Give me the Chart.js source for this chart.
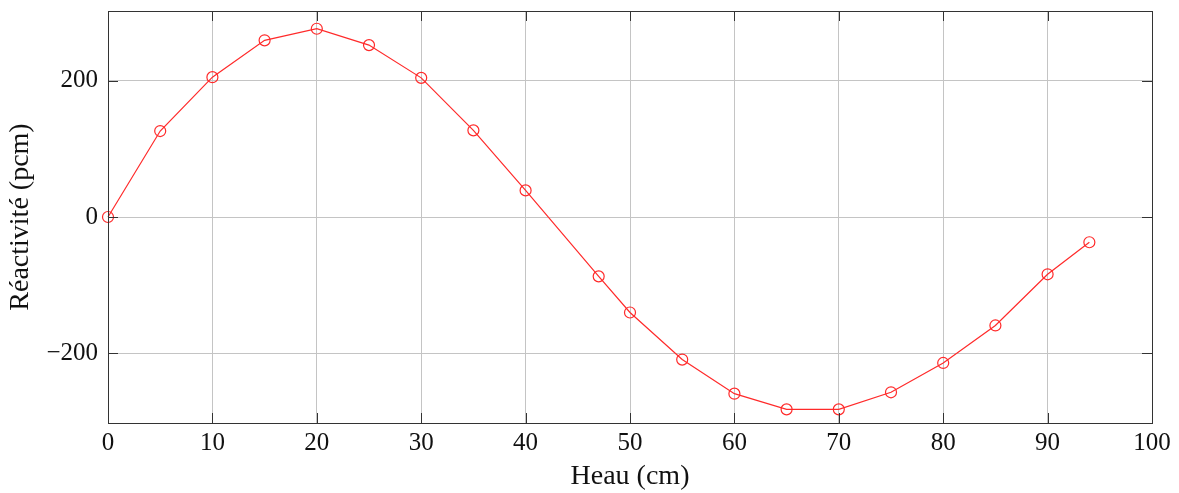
<!DOCTYPE html>
<html>
<head>
<meta charset="utf-8">
<script src="https://cdn.jsdelivr.net/npm/chart.js@4"></script>
<style>
  html, body { margin: 0; padding: 0; background: #fff; }
  #wrap { width: 1179px; height: 493px; position: relative; }
</style>
</head>
<body>
<div id="wrap"><canvas id="reacChart"></canvas></div>
<script>
// hauteur d'eau (cm) et réactivité (pcm)
const heights = [0, 5, 10, 15, 20, 25, 30, 35, 40, 47, 50, 55, 60, 65, 70, 75, 80, 85, 90, 94];
const reactivity = [0, 126, 205, 259, 276, 252, 204, 127, 39, -87, -140, -209, -259, -282, -282, -257, -214, -159, -84, -37];
const xTicks = [0, 10, 20, 30, 40, 50, 60, 70, 80, 90, 100];
const yTicks = [-200, 0, 200];

const FONT = "'Liberation Serif', 'DejaVu Serif', serif";

// pgfplots style: full box + small inward tick marks
const boxPlugin = {
  id: "box",
  afterDatasetsDraw(chart) {
    const { ctx, chartArea: a, scales } = chart;
    ctx.save();
    ctx.strokeStyle = "#333";
    ctx.lineWidth = 1;
    ctx.beginPath();
    xTicks.forEach((v) => {
      const px = Math.round(scales.x.getPixelForValue(v)) + 0.5;
      ctx.moveTo(px, a.bottom); ctx.lineTo(px, a.bottom - 10);
      ctx.moveTo(px, a.top); ctx.lineTo(px, a.top + 10);
    });
    yTicks.forEach((v) => {
      const py = Math.round(scales.y.getPixelForValue(v)) + 0.5;
      ctx.moveTo(a.left, py); ctx.lineTo(a.left + 10, py);
      ctx.moveTo(a.right, py); ctx.lineTo(a.right - 10, py);
    });
    ctx.stroke();
    ctx.strokeRect(Math.round(a.left) + 0.5, Math.round(a.top) + 0.5,
      Math.round(a.right - a.left), Math.round(a.bottom - a.top));
    ctx.restore();
  },
};

new Chart(document.getElementById("reacChart"), {
  type: "line",
  data: {
    datasets: [
      {
        data: heights.map((h, i) => ({ x: h, y: reactivity[i] })),
        borderColor: "#ff2a2a",
        borderWidth: 1.2,
        pointStyle: "circle",
        pointRadius: 5.5,
        pointBorderWidth: 1.2,
        pointBackgroundColor: "rgba(0,0,0,0)",
        pointBorderColor: "#ff2a2a",
        tension: 0,
      },
    ],
  },
  options: {
    responsive: true,
    maintainAspectRatio: false,
    animation: false,
    clip: false,
    layout: { padding: { top: 11, right: 27, left: 0, bottom: 0 } },
    plugins: {
      legend: { display: false },
      tooltip: { enabled: false },
    },
    scales: {
      x: {
        type: "linear",
        min: 0,
        max: 100,
        afterBuildTicks: (s) => { s.ticks = xTicks.map((v) => ({ value: v })); },
        afterFit: (s) => { s.height = 70; },
        grid: { color: "#c4c4c4", lineWidth: 1, drawTicks: false },
        border: { display: false },
        ticks: { color: "#111", padding: 5, maxRotation: 0, font: { family: FONT, size: 25 } },
        title: {
          display: true,
          text: "Heau (cm)",
          color: "#111",
          padding: { top: 4, bottom: 0 },
          font: { family: FONT, size: 28 },
        },
      },
      y: {
        type: "linear",
        min: -302,
        max: 302,
        afterBuildTicks: (s) => { s.ticks = yTicks.map((v) => ({ value: v })); },
        afterFit: (s) => { s.width = 108; s.paddingTop = 0; s.paddingBottom = 0; },
        grid: { color: "#c4c4c4", lineWidth: 1, drawTicks: false },
        border: { display: false },
        ticks: {
          color: "#111",
          padding: 10,
          font: { family: FONT, size: 25 },
          callback: (v) => String(v).replace("-", "\u2212"),
        },
        title: {
          display: true,
          text: "Réactivité (pcm)",
          color: "#111",
          padding: { top: 4, bottom: 0 },
          font: { family: FONT, size: 28 },
        },
      },
    },
  },
  plugins: [boxPlugin],
});
</script>
</body>
</html>
